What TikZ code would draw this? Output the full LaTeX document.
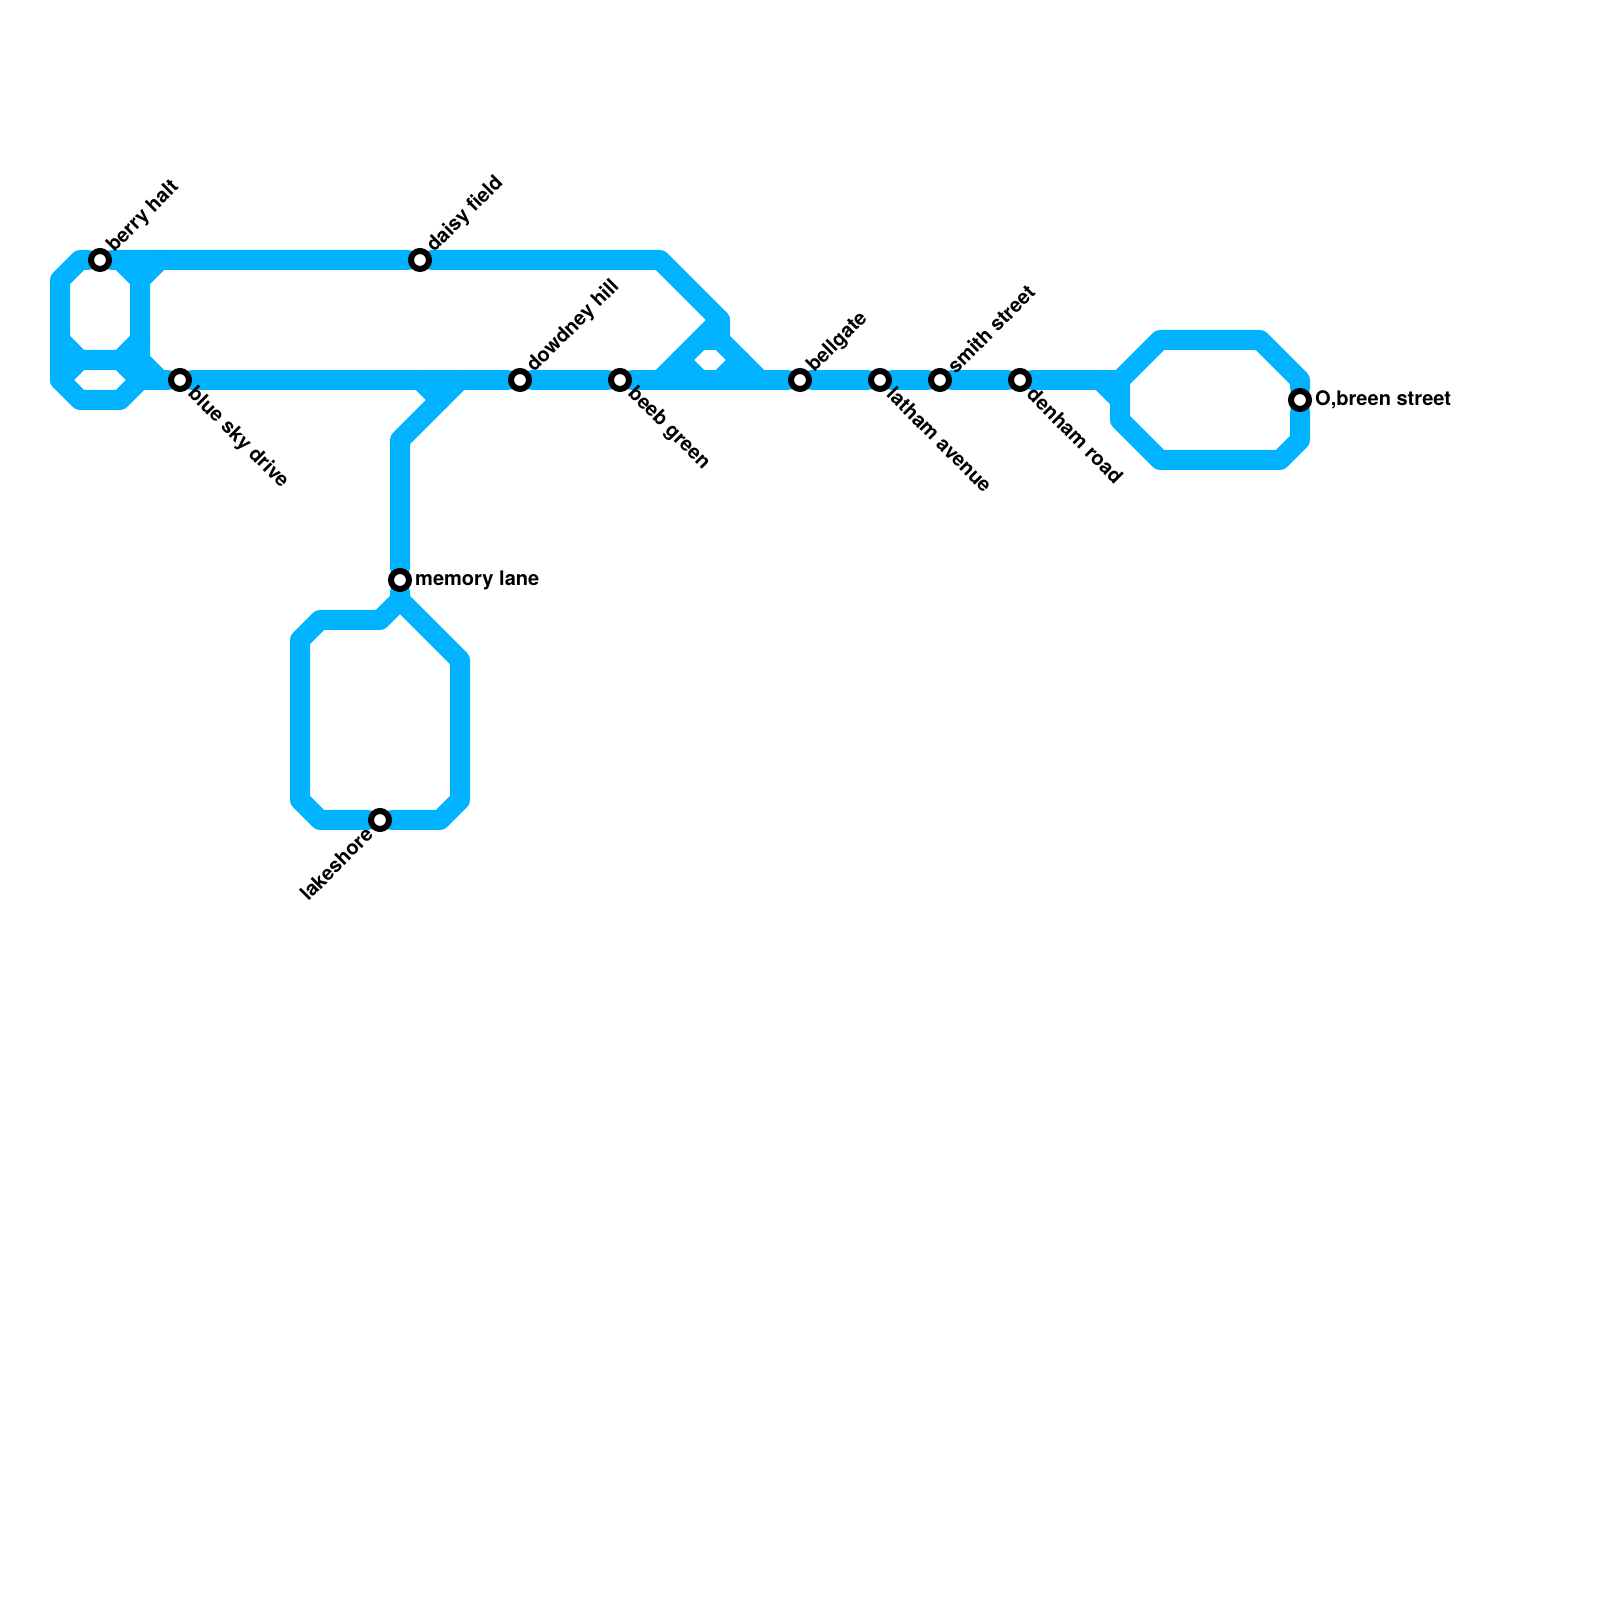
\documentclass[tikz,border=0pt]{standalone}
\usepackage{fontspec}
\setmainfont{TeX Gyre Heros}
\usetikzlibrary{backgrounds}
\definecolor{linecol}{RGB}{0,178,255}
\tikzset{
  track/.style={draw=linecol, line width=0.2cm, line join=round, line cap=round},
  station/.style={circle, draw=black, fill=white, line width=0.06cm, minimum size=0.18cm, inner sep=0pt},
  stationtext/.style={inner sep=0pt, text=black, font=\fontsize{5.7}{6}\selectfont\bfseries},
}
\begin{document}
\begin{tikzpicture}[x=0.2cm,y=0.2cm]
  \useasboundingbox (0,0) rectangle (80,80);
  %% stations
  \foreach \sname/\spos/\sdir/\sanc/\stxt in {
      berry/{5,67}/45/west/berry halt,
      daisy/{21,67}/45/west/daisy field,
      bluesky/{9,61}/-45/west/blue sky drive,
      dowdney/{26,61}/45/west/dowdney hill,
      beeb/{31,61}/-45/west/beeb green,
      bellgate/{40,61}/45/west/bellgate,
      latham/{44,61}/-45/west/latham avenue,
      smith/{47,61}/45/west/smith street,
      denham/{51,61}/-45/west/denham road,
      obreen/{65,60}/0/west/{O,breen street},
      memory/{20,51}/0/west/memory lane,
      lakeshore/{19,39}/225/east/lakeshore} {
    \node[station] (\sname) at (\spos) {};
    \ifnum\sdir=225
      \node[stationtext,rotate=45,anchor=\sanc] (\sname text) at ([shift={(\sdir:0.145cm)}]\sname) {\stxt};
    \else
      \node[stationtext,rotate=\sdir,anchor=\sanc] (\sname text) at ([shift={(\sdir:0.145cm)}]\sname) {\stxt};
    \fi
  }
  \begin{scope}[on background layer]
    %% left loops and top line
    \draw[track] (7,61) -- (6,60) -- (4,60) -- (3,61) -- (3,66) -- (4,67) -- (berry) -- (daisy) -- (33,67) -- (36,64) -- (36,63) -- (38,61);
    \draw[track] (3,61) -- (4,62) -- (6,62) -- (7,63);
    \draw[track] (6,67) -- (7,66) -- (7,62) -- (8,61);
    \draw[track] (3,63) -- (4,62);
    \draw[track] (6,62) -- (7,61);
    \draw[track] (7,66) -- (8,67);
    %% main line
    \draw[track] (7,61) -- (bluesky) -- (dowdney) -- (beeb) -- (bellgate) -- (latham) -- (smith) -- (denham) -- (56,61);
    %% small crossing
    \draw[track] (33,61) -- (36,64);
    \draw[track] (35,63) -- (36,63);
    \draw[track] (34,62) -- (35,61);
    \draw[track] (36,61) -- (37,62);
    %% right loop
    \draw[track] (55,61) -- (56,60) -- (56,59) -- (58,57) -- (64,57) -- (65,58) -- (obreen) -- (65,61) -- (63,63) -- (58,63) -- (56,61) -- (56,60);
    %% south branch
    \draw[track] (23,61) -- (20,58) -- (memory) -- (20,50) -- (19,49) -- (16,49) -- (15,48) -- (15,40) -- (16,39) -- (lakeshore) -- (22,39) -- (23,40) -- (23,47) -- (20,50);
    \draw[track] (21,61) -- (22,60);
  \end{scope}
\end{tikzpicture}
\end{document}
